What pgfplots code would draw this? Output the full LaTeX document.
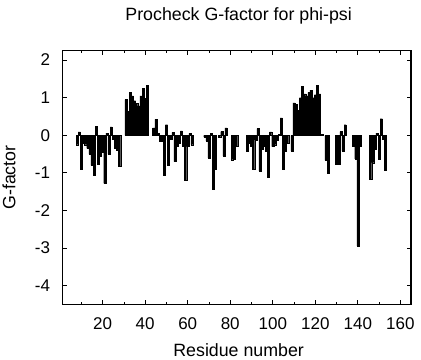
\documentclass[border=0pt]{standalone}
\usepackage{pgfplots}
\pgfplotsset{compat=1.18}
\usepackage{fontspec}
\setmainfont{Liberation Sans}
\begin{document}
\fontsize{17.8bp}{20bp}\selectfont
\begin{tikzpicture}
\begin{axis}[
  scale only axis,
  width=349bp, height=254bp,
  xmin=1, xmax=165, ymin=-4.5, ymax=2.25,
  xtick={20,40,...,160},
  minor xtick={10,30,...,150},
  ytick={-4,-3,...,2},
  tick align=inside,
  xtick pos=both, ytick pos=both,
  major tick length=4.5bp, minor tick length=2.5bp,
  axis line style={line width=1.1bp},
  every tick/.style={line width=0.8bp, black},
  /pgf/number format/assume math mode=true,
  ticklabel style={font=\fontsize{17bp}{19bp}\selectfont, inner sep=0pt},
  xticklabel style={anchor=base, yshift=-25bp},
  yticklabel style={anchor=east, xshift=-12bp},
]
\addplot[ybar, bar width=1, fill=black, draw=black, line width=0.3bp] coordinates {
(8,-0.25) (9,0.09) (10,-0.91) (11,-0.2) (12,-0.25) (13,-0.35) (14,-0.5) (15,-0.8)
(16,-1.05) (17,0.24) (18,-0.78) (19,-0.55) (20,-0.45) (21,-1.28) (22,0.06) (23,-0.5)
(24,0.22) (25,-0.1) (26,-0.35) (27,-0.4) (28,-0.82)
(31,0.95) (32,0.64) (33,1.15) (34,1.05) (35,0.92) (36,0.85) (37,0.78) (38,1.05)
(39,1.25) (40,0.98) (41,1.33)
(44,0.2) (45,0.42) (46,0.05) (47,-0.15) (48,-0.15) (49,-1.07) (50,0.28) (51,-0.8)
(52,-0.1) (53,0.08) (54,-0.7) (55,-0.3) (56,-0.2) (57,0.12) (58,-0.3) (59,-1.2)
(60,-0.3) (61,0.05) (62,-0.25)
(68,-0.05) (69,-0.15) (70,-0.6) (71,0.05) (72,-1.44) (73,-0.9)
(75,-0.05) (76,0.1) (77,-0.55) (78,0.2)
(81,-0.65) (82,-0.63) (83,-0.28)
(88,-0.43) (89,-0.22) (90,-0.3) (91,-0.9) (92,-0.12) (93,0.18) (94,-0.95) (95,-0.38)
(96,-0.3) (97,-0.42) (98,-1.12) (99,0.09) (100,-0.3) (101,-0.25) (102,-0.12) (103,0.02)
(104,0.46) (105,-0.91) (106,-0.42) (107,-0.2)
(109,-0.42) (110,0.86) (111,0.83) (112,0.66) (113,1.0) (114,1.3) (115,1.1) (116,1.05)
(117,1.14) (118,1.2) (119,1.0) (120,1.08) (121,1.32) (122,1.1) (123,0.02)
(125,-0.66) (126,-1.02)
(130,-0.78) (131,-0.78) (132,0.1) (133,-0.42) (134,0.28)
(138,-0.3) (139,-0.63) (140,-2.94) (141,-0.3)
(146,-1.18) (147,-0.73) (148,-0.38) (149,0.06) (150,-0.63) (151,0.44) (152,-0.1) (153,-0.93)
};
\coordinate (bl) at (rel axis cs:0,0);
\coordinate (tr) at (rel axis cs:1,1);
\coordinate (tc) at (rel axis cs:0.5,1);
\coordinate (bc) at (rel axis cs:0.5,0);
\coordinate (lc) at (rel axis cs:0,0.5);
\end{axis}
\path[use as bounding box] ([xshift=-62.3bp,yshift=-55bp]bl) rectangle ([xshift=10bp,yshift=50.7bp]tr);
\node[anchor=base, inner sep=0pt] at ([xshift=2bp,yshift=30bp]tc) {Procheck G-factor for phi-psi};
\node[anchor=base, inner sep=0pt] at ([xshift=2bp,yshift=-51.7bp]bc) {Residue number};
\node[anchor=base, rotate=90, inner sep=0pt] at ([xshift=-47bp]lc) {G-factor};
\end{tikzpicture}
\end{document}
